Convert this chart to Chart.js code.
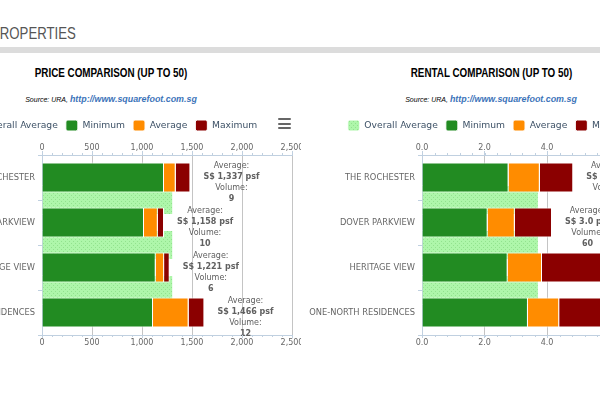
<!DOCTYPE html>
<html>
<head>
<meta charset="utf-8">
<script src="https://cdn.jsdelivr.net/npm/chart.js@4.4.1/dist/chart.umd.min.js"></script>
<style>
html, body { margin: 0; padding: 0; background: #fff; width: 600px; height: 400px; overflow: hidden; position: relative; }
#head { position: absolute; left: -9px; top: 25px; font: 16.5px/16px "Liberation Sans", sans-serif; color: #555; white-space: nowrap; transform: scaleX(.8); transform-origin: left center; }
#rule { position: absolute; left: 0; top: 47px; width: 600px; height: 6px; background: #dcdcdc; }
.box { position: absolute; top: 0; width: 380px; height: 400px; overflow: hidden; }
.title { position: absolute; left: 0; width: 380px; top: 66px; text-align: center; font: bold 12px/14px "Liberation Sans", sans-serif; color: #000; }
.title span { display: inline-block; transform: scaleX(.82); white-space: nowrap; }
.sub { position: absolute; left: 0; width: 380px; top: 91px; text-align: center; line-height: 12px; white-space: nowrap; }
.sub .src { font: italic 7px "Liberation Sans", sans-serif; color: #000; }
.sub a { font: italic bold 8.9px "Liberation Sans", sans-serif; color: #3b73b9; text-decoration: none; }
.menu { position: absolute; left: 357px; top: 118px; width: 13px; }
.menu i { display: block; height: 2px; background: #666; margin-bottom: 2.5px; border-radius: 1px; }
canvas { position: absolute; left: 0; top: 109px; }
</style>
</head>
<body>
<div id="head">PROPERTIES</div>
<div id="rule"></div>

<div class="box" style="left:-79px">
  <div class="title"><span>PRICE COMPARISON (UP TO 50)</span></div>
  <div class="sub"><span class="src">Source: URA, </span><a>http://www.squarefoot.com.sg</a></div>
  <div class="menu"><i></i><i></i><i></i></div>
  <canvas id="price" width="394" height="291"></canvas>
</div>

<div class="box" style="left:301px">
  <div class="title"><span>RENTAL COMPARISON (UP TO 50)</span></div>
  <div class="sub"><span class="src">Source: URA, </span><a>http://www.squarefoot.com.sg</a></div>
  <div class="menu"><i></i><i></i><i></i></div>
  <canvas id="rental" width="394" height="291"></canvas>
</div>

<script>
const categories = ['THE ROCHESTER', 'DOVER PARKVIEW', 'HERITAGE VIEW', 'ONE-NORTH RESIDENCES'];

// price psf
const priceMin = [1220, 1020, 1137, 1110];
const priceAvg = [1337, 1158, 1221, 1466];
const priceMax = [1484, 1220, 1277, 1624];
const priceVolume = [9, 10, 6, 12];
const priceOverall = 1312;
const priceTicks = [0, 500, 1000, 1500, 2000, 2500];

// rental psf
const rentMin = [2.77, 2.10, 2.74, 3.39];
const rentAvg = [3.77, 2.97, 3.84, 4.39];
const rentMax = [4.84, 4.16, 6.30, 6.90];
const rentVolume = [31, 60, 22, 45];
const rentOverall = 3.74;
const rentTicks = [0, 2, 4, 6, 8];

Chart.defaults.font.family = '"DejaVu Sans", Verdana, sans-serif';

function dotted() {
    const c = document.createElement('canvas');
    c.width = 4; c.height = 4;
    const g = c.getContext('2d');
    g.fillStyle = '#aef6aa';
    g.fillRect(0, 0, 4, 4);
    g.fillStyle = '#92e28e';
    g.fillRect(0, 0, 1, 1);
    g.fillRect(2, 2, 1, 1);
    return g.createPattern(c, 'repeat');
}

// "Average: / S$ x psf / Volume: / n" next to each bar
const barNotes = {
    id: 'barNotes',
    afterDatasetsDraw(chart, args, opts) {
        const meta = chart.getDatasetMeta(3);
        const ctx = chart.ctx;
        ctx.save();
        ctx.fillStyle = '#606060';
        ctx.textAlign = 'center';
        ctx.textBaseline = 'middle';
        meta.data.forEach((bar, i) => {
            const lines = [
                ['Average:', false],
                ['S$ ' + opts.format(opts.avg[i]) + ' psf', true],
                ['Volume:', false],
                [String(opts.volume[i]), true]
            ];
            const font = b => (b ? 'bold ' : '') + '8px "DejaVu Sans"';
            let w = 0;
            lines.forEach(l => { ctx.font = font(l[1]); w = Math.max(w, ctx.measureText(l[0]).width); });
            const cx = bar.x + 13 + w / 2;
            lines.forEach((l, k) => {
                ctx.font = font(l[1]);
                ctx.fillText(l[0], cx, bar.y - 12 + 11 * k);
            });
        });
        ctx.restore();
    }
};

const minorTicks = {
    id: 'minorTicks',
    afterDraw(chart, args, opts) {
        const {ctx, chartArea} = chart;
        const sc = chart.scales.x;
        ctx.save();
        ctx.strokeStyle = '#C0D0E0';
        ctx.lineWidth = 1;
        for (let v = sc.min; v <= sc.max + 1e-9; v += opts.step) {
            const px = Math.round(sc.getPixelForValue(v)) + 0.5;
            ctx.beginPath();
            ctx.moveTo(px, chartArea.top);
            ctx.lineTo(px, chartArea.top - 2);
            ctx.moveTo(px, chartArea.bottom);
            ctx.lineTo(px, chartArea.bottom + 2);
            ctx.stroke();
        }
        ctx.restore();
    }
};

// legend sits a little right of the canvas centre
const legendNudge = {
    id: 'legendNudge',
    afterLayout(chart, args, opts) {
        chart.legend.left += opts.dx;
        chart.legend.right += opts.dx;
    }
};

function makeChart(id, mins, avgs, maxs, volume, overall, ticks, tickFmt, avgFmt) {
    const setTicks = s => { s.ticks = ticks.map(v => ({value: v})); };
    const axisFont = {size: 8};
    // bars sit on a linear index axis: category i spans [i, i+1]
    const barOpts = {borderColor: '#fff', borderWidth: 1, categoryPercentage: 1, barPercentage: 4 / 3};
    const mid = i => i + 0.5;
    return new Chart(document.getElementById(id), {
        type: 'bar',
        data: {
            datasets: [
                Object.assign({
                    label: 'Overall Average',
                    data: categories.slice(1).map((c, i) => ({x: overall, y: i + 1})),
                    backgroundColor: dotted(),
                    order: 1
                }, barOpts),
                Object.assign({
                    label: 'Minimum',
                    data: mins.map((v, i) => ({x: [0, v], y: mid(i)})),
                    backgroundColor: '#228B22',
                    grouped: false,
                    order: 0
                }, barOpts),
                Object.assign({
                    label: 'Average',
                    data: mins.map((v, i) => ({x: [v, avgs[i]], y: mid(i)})),
                    backgroundColor: '#FF8C00',
                    grouped: false,
                    order: 0
                }, barOpts),
                Object.assign({
                    label: 'Maximum',
                    data: avgs.map((v, i) => ({x: [v, maxs[i]], y: mid(i)})),
                    backgroundColor: '#8B0000',
                    grouped: false,
                    order: 0
                }, barOpts)
            ]
        },
        options: {
            responsive: false,
            animation: false,
            indexAxis: 'y',
            layout: {padding: {top: 3, right: 23, bottom: 50, left: 0}},
            plugins: {
                legend: {
                    position: 'top',
                    labels: {
                        boxWidth: 12, boxHeight: 11, padding: 8,
                        font: {size: 9.2}, color: '#3d5166',
                        useBorderRadius: true, borderRadius: 2,
                        sort: (a, b) => a.datasetIndex - b.datasetIndex
                    }
                },
                legendNudge: {dx: 6},
                tooltip: {enabled: false},
                barNotes: {avg: avgs, volume: volume, format: avgFmt},
                minorTicks: {step: (ticks[1] - ticks[0]) / 5}
            },
            scales: {
                x: {
                    type: 'linear', position: 'top',
                    min: ticks[0], max: ticks[ticks.length - 1],
                    afterBuildTicks: setTicks,
                    afterFit: s => { s.height = 14; s.paddingLeft = 0; s.paddingRight = 0; },
                    grid: {
                        color: c => (c.tick && c.tick.value === ticks[0]) ? 'rgba(0,0,0,0)' : '#c4c4c4',
                        tickColor: '#C0D0E0', tickLength: 4
                    },
                    border: {color: '#C0D0E0'},
                    ticks: {font: axisFont, color: '#666', padding: -2, maxRotation: 0, autoSkip: false, callback: tickFmt}
                },
                x2: {
                    type: 'linear', position: 'bottom',
                    min: ticks[0], max: ticks[ticks.length - 1],
                    afterBuildTicks: setTicks,
                    afterFit: s => { s.height = 15; s.paddingLeft = 0; s.paddingRight = 0; },
                    grid: {drawOnChartArea: false, tickColor: '#C0D0E0', tickLength: 3},
                    border: {color: '#C0D0E0'},
                    ticks: {font: axisFont, color: '#666', padding: 0, maxRotation: 0, autoSkip: false, callback: tickFmt}
                },
                y: {
                    type: 'linear', reverse: true, offset: false,
                    min: 0, max: categories.length,
                    afterBuildTicks: s => { s.ticks = categories.map((c, i) => ({value: mid(i)})); },
                    afterFit: s => { s.width = 121; s.paddingTop = 0; s.paddingBottom = 0; },
                    grid: {drawOnChartArea: false, offset: true, tickColor: '#C0D0E0', tickLength: 4},
                    border: {color: '#C0D0E0'},
                    ticks: {font: {size: 8.3}, color: '#666', padding: 3, autoSkip: false,
                        callback: (v, i) => categories[i]}
                }
            }
        },
        plugins: [barNotes, minorTicks, legendNudge]
    });
}

makeChart('price', priceMin, priceAvg, priceMax, priceVolume, priceOverall, priceTicks,
    v => v.toLocaleString('en-US'), v => v.toLocaleString('en-US'));
makeChart('rental', rentMin, rentAvg, rentMax, rentVolume, rentOverall, rentTicks,
    v => v.toFixed(1), v => v.toFixed(1));
</script>
</body>
</html>
